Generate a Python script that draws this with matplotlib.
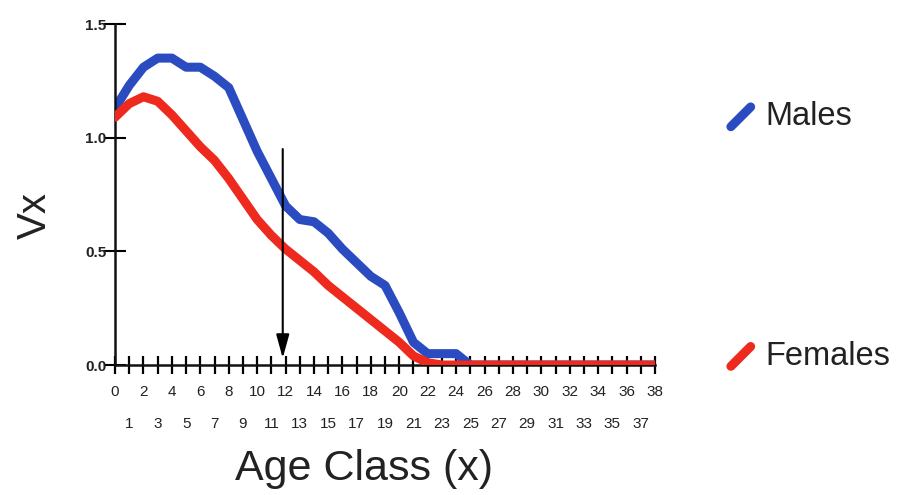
import numpy as np
import matplotlib.pyplot as plt
from matplotlib.lines import Line2D

# DATA
ages = list(range(39))
males = [1.13, 1.23, 1.31, 1.35, 1.35, 1.31, 1.31, 1.27, 1.22, 1.08,
         0.94, 0.82, 0.70, 0.64, 0.63, 0.58, 0.51, 0.45, 0.39, 0.35,
         0.23, 0.10, 0.05, 0.05, 0.05, 0.0, 0.0, 0.0, 0.0, 0.0,
         0.0, 0.0, 0.0, 0.0, 0.0, 0.0, 0.0, 0.0, 0.0]
females = [1.09, 1.15, 1.18, 1.16, 1.10, 1.03, 0.96, 0.90, 0.82, 0.73,
           0.64, 0.57, 0.51, 0.46, 0.41, 0.35, 0.30, 0.25, 0.20, 0.15,
           0.10, 0.04, 0.01, 0.0, 0.0, 0.0, 0.0, 0.0, 0.0, 0.0,
           0.0, 0.0, 0.0, 0.0, 0.0, 0.0, 0.0, 0.0, 0.0]
y_ticks = [0.0, 0.5, 1.0, 1.5]
y_tick_labels = ["0.0", "0.5", "1.0", "1.5"]
series_names = ["Males", "Females"]

# arrow marking age class 12
arrow_x = 11.8
arrow_top = 0.95
arrow_bottom = 0.03

BLUE = "#2b4cc0"
RED = "#ee2a1e"
TEXT = "#222222"


def main():
    plt.rcParams["font.family"] = ["Liberation Sans", "DejaVu Sans"]
    fig = plt.figure(figsize=(8.99, 4.95), dpi=100, facecolor="white")
    ax = fig.add_axes([0.128, 0.2626, 0.6006, 0.6889])

    ax.plot(ages, males, color=BLUE, lw=6.5, solid_joinstyle="round",
            solid_capstyle="round", zorder=2)
    ax.plot(ages, females, color=RED, lw=6.5, solid_joinstyle="round",
            solid_capstyle="round", zorder=3)

    ax.annotate("", xy=(arrow_x, arrow_bottom), xytext=(arrow_x, arrow_top),
                arrowprops=dict(arrowstyle="-|>,head_length=0.8,head_width=0.22",
                                color="black", lw=1.5,
                                mutation_scale=18, shrinkA=0, shrinkB=0),
                zorder=5)

    ax.set_xlim(0, 38)
    ax.set_ylim(0, 1.5)
    for s in ["top", "right"]:
        ax.spines[s].set_visible(False)
    for s in ["left", "bottom"]:
        ax.spines[s].set_linewidth(1.8)
        ax.spines[s].set_color("#111111")

    even = [a for a in ages if a % 2 == 0]
    odd = [a for a in ages if a % 2 == 1]
    ax.set_xticks(even)
    ax.set_xticklabels([str(a) for a in even])
    ax.set_xticks(odd, minor=True)
    ax.set_xticklabels([str(a) for a in odd], minor=True)
    ax.tick_params(axis="x", which="major", direction="inout", length=13,
                   width=1.6, pad=8, labelsize=11, labelcolor=TEXT)
    ax.tick_params(axis="x", which="minor", direction="inout", length=13,
                   width=1.6, pad=31, labelsize=11, labelcolor=TEXT)
    ax.set_yticks(y_ticks)
    ax.set_yticklabels(y_tick_labels, fontweight="bold")
    ax.tick_params(axis="y", direction="inout", length=16, width=1.5,
                   pad=-2, labelsize=11, labelcolor=TEXT)

    fig.text(0.405, 0.052, "Age Class (x)", fontsize=31, color=TEXT,
             ha="center", va="center")
    fig.text(0.039, 0.564, "Vx", fontsize=29, color=TEXT, rotation=90,
             ha="center", va="center")

    # legend drawn by hand at the right of the chart
    for name, color, ypos in [(series_names[0], BLUE, 0.764), (series_names[1], RED, 0.280)]:
        fig.add_artist(Line2D([0.813, 0.835], [ypos - 0.02, ypos + 0.02],
                              color=color, lw=6.5, solid_capstyle="round",
                              transform=fig.transFigure))
        fig.text(0.851, ypos, name, fontsize=23.5, color=TEXT, va="center", ha="left")

    plt.savefig("out.png", dpi=100)


if __name__ == "__main__":
    main()
